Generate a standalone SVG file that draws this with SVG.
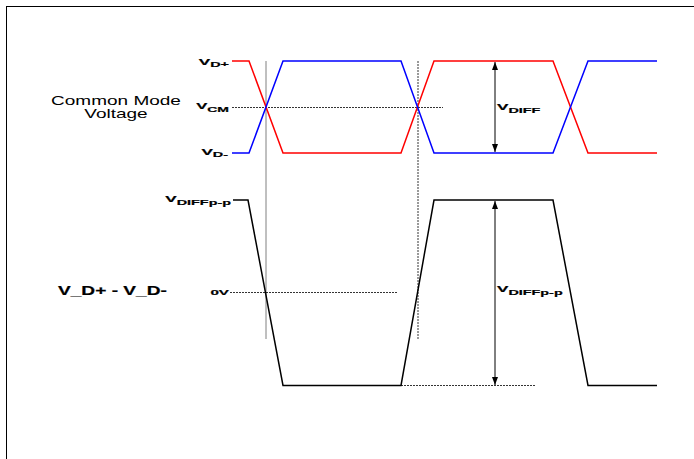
<svg xmlns="http://www.w3.org/2000/svg" width="694" height="459" viewBox="0 0 694 459">
<style>
.wave{fill:none;stroke-width:1.5;stroke-linejoin:miter}
.lbl{font-family:"Liberation Sans",Arial,sans-serif;font-weight:bold;fill:#000;stroke:#000;stroke-width:0.2}
.reg{font-family:"Liberation Sans",Arial,sans-serif;fill:#000}
.dash{stroke:#000;stroke-width:0.8;stroke-dasharray:2,1;fill:none}
.ax{stroke:#000;stroke-width:1;fill:none}
</style>
<defs>
<marker id="ah" viewBox="0 0 8 6" refX="8" refY="3" markerWidth="8" markerHeight="6" markerUnits="userSpaceOnUse" orient="auto-start-reverse">
<path d="M0,0 L8,3 L0,6 Z" fill="#000"/>
</marker>
</defs>
<rect x="0" y="0" width="694" height="459" fill="#fff"/>
<rect x="6.5" y="6.5" width="700" height="470" fill="none" stroke="#000" stroke-width="1"/>

<g id="guides">
<line x1="266" y1="61" x2="266" y2="339" stroke="#808080" stroke-width="1"/>
<line x1="418" y1="61" x2="418" y2="339" stroke="#000" stroke-width="0.8" stroke-dasharray="2,1"/>
<line class="dash" x1="232" y1="107.5" x2="443" y2="107.5"/>
<line class="dash" x1="230" y1="292.5" x2="397" y2="292.5"/>
<line class="dash" x1="401" y1="385.5" x2="536" y2="385.5" stroke="#666"/>
</g>

<g id="waves">
<path class="wave" stroke="#ff0000" d="M232,61 H249 L283,153 H401 L434,61 H553 L588,153 H657"/>
<path class="wave" stroke="#0000ff" d="M232,153 H249 L283,61 H401 L434,153 H553 L588,61 H657"/>
<path class="wave" stroke="#000" d="M233,200 H248 L283,385.5 H401 L434,200 H553 L588,385.5 H657"/>
</g>

<g id="arrows">
<line class="ax" x1="495" y1="62" x2="495" y2="152" marker-start="url(#ah)" marker-end="url(#ah)"/>
<line class="ax" x1="495" y1="201" x2="495" y2="385" marker-start="url(#ah)" marker-end="url(#ah)"/>
</g>

<g id="labels">
<text class="reg" font-size="12.5" text-anchor="middle" transform="translate(116,105) scale(1.52,1)">Common Mode</text>
<text class="reg" font-size="12.5" text-anchor="middle" transform="translate(116,117.5) scale(1.52,1)">Voltage</text>
<text class="lbl" font-size="12.5" transform="translate(58,295) scale(1.53,1)">V_D+ - V_D-</text>

<text class="lbl" font-size="9.5" text-anchor="end" transform="translate(229,64.5) scale(1.8,1)">V<tspan font-size="8" dy="2.5">D+</tspan></text>
<text class="lbl" font-size="9.5" text-anchor="end" transform="translate(229,109) scale(1.75,1)">V<tspan font-size="8" dy="2.5">CM</tspan></text>
<text class="lbl" font-size="9.5" text-anchor="end" transform="translate(228,154.5) scale(1.8,1)">V<tspan font-size="8" dy="2.5">D-</tspan></text>
<text class="lbl" font-size="9.5" text-anchor="end" transform="translate(231,202) scale(1.8,1)">V<tspan font-size="8" dy="2.5">DIFFp-p</tspan></text>
<text class="lbl" font-size="8" text-anchor="end" transform="translate(229,295) scale(1.9,1)">0V</text>

<text class="lbl" font-size="9.5" transform="translate(497,110) scale(1.8,1)">V<tspan font-size="8" dy="2.5">DIFF</tspan></text>
<text class="lbl" font-size="9.5" transform="translate(497,292) scale(1.8,1)">V<tspan font-size="8" dy="2.5">DIFFp-p</tspan></text>
</g>
</svg>
